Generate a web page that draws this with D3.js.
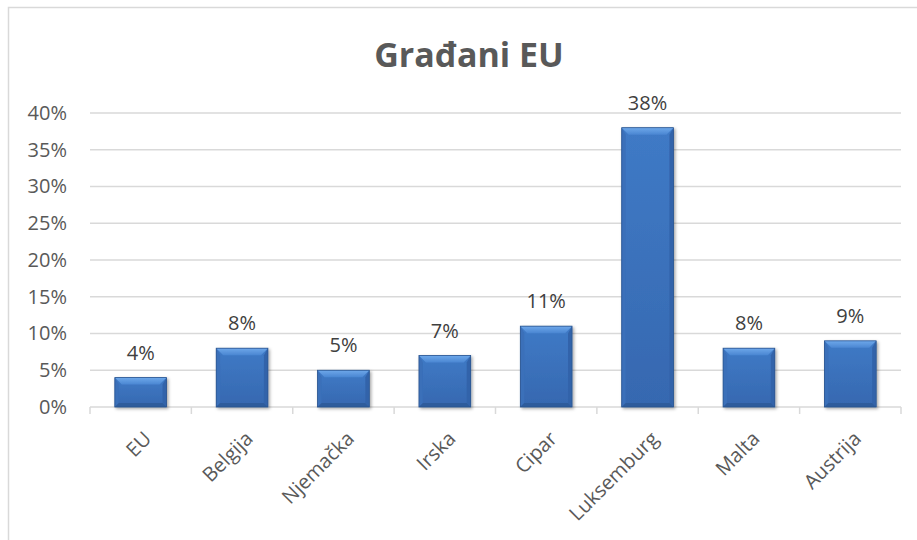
<!DOCTYPE html>
<html>
<head>
<meta charset="utf-8">
<script src="https://cdn.jsdelivr.net/npm/d3@7"></script>
<style>
	body { margin: 0; background: #fff; }
	#vis { width: 917px; height: 540px; }
	text { font-family: "Open Sans", "Noto Sans", sans-serif; }
</style>
</head>
<body>
<div id="vis"></div>
<script>
var countries = ['EU', 'Belgija', 'Njemačka', 'Irska', 'Cipar', 'Luksemburg', 'Malta', 'Austrija'];
var shares = [4, 8, 5, 7, 11, 38, 8, 9];
var y_ticks = [0, 5, 10, 15, 20, 25, 30, 35, 40];
var title = 'Građani EU';

var width = 917;
var height = 540;
var margin = {
	top: 113,
	bottom: 133,
	left: 90,
	right: 16
};
var svg = d3.select('#vis').append('svg').attr('width', width).attr('height', height);

// chart frame (right and bottom run off the picture)
svg.append('rect').attr('x', 8.5).attr('y', 7.5).attr('width', 930).attr('height', 560)
	.attr('fill', 'none').attr('stroke', '#d9d9d9').attr('stroke-width', 1.5);

svg.append('text').attr('x', 469).attr('y', 67).attr('text-anchor', 'middle')
	.attr('font-size', 34).attr('font-weight', 700).attr('fill', '#595959').text(title);

var defs = svg.append('defs');
var g_top = defs.append('linearGradient').attr('id', 'bevel_top').attr('x1', 0).attr('y1', 0).attr('x2', 0).attr('y2', 1);
g_top.append('stop').attr('offset', '0%').attr('stop-color', '#6ea8ea');
g_top.append('stop').attr('offset', '100%').attr('stop-color', '#4a86d2');
var g_body = defs.append('linearGradient').attr('id', 'body').attr('x1', 0).attr('y1', 0).attr('x2', 0).attr('y2', 1);
g_body.append('stop').attr('offset', '0%').attr('stop-color', '#3f7ac6');
g_body.append('stop').attr('offset', '100%').attr('stop-color', '#3668b0');
var shadow = defs.append('filter').attr('id', 'shadow').attr('x', '-20%').attr('y', '-20%').attr('width', '140%').attr('height', '140%');
shadow.append('feDropShadow').attr('dx', 1.5).attr('dy', 1.5).attr('stdDeviation', 1.5).attr('flood-color', '#000').attr('flood-opacity', 0.35);

var x_scale = d3.scaleBand().domain(countries).range([margin.left, width - margin.right])
	.paddingInner(0.49).paddingOuter(0.245);
var y_scale = d3.scaleLinear().domain([0, 40]).range([height - margin.bottom, margin.top]);
var base = y_scale(0);

// gridlines
svg.append('g').selectAll('line').data(y_ticks.slice(1)).enter().append('line')
	.attr('x1', margin.left).attr('x2', width - margin.right)
	.attr('y1', function(d) { return y_scale(d); }).attr('y2', function(d) { return y_scale(d); })
	.attr('stroke', '#d9d9d9').attr('stroke-width', 1.5);

// y labels
var y_axis = d3.axisLeft(y_scale).tickValues(y_ticks).tickSize(0).tickPadding(23)
	.tickFormat(function(d) { return d + '%'; });
var y_g = svg.append('g').attr('transform', 'translate(' + margin.left + ',0)').call(y_axis);
y_g.select('.domain').remove();
y_g.selectAll('text').attr('font-size', 20).attr('fill', '#595959').attr('font-family', '"Open Sans", sans-serif');

// x axis line and boundary ticks
var gap = (x_scale.step() - x_scale.bandwidth()) / 2;
var bounds = countries.map(function(d) { return x_scale(d) - gap; }).concat([x_scale.range()[1]]);
svg.append('line').attr('x1', margin.left).attr('x2', width - margin.right).attr('y1', base).attr('y2', base)
	.attr('stroke', '#d9d9d9').attr('stroke-width', 1.5);
svg.append('g').selectAll('line').data(bounds).enter().append('line')
	.attr('x1', function(d) { return d; }).attr('x2', function(d) { return d; })
	.attr('y1', base).attr('y2', base + 7)
	.attr('stroke', '#d9d9d9').attr('stroke-width', 1.5);

// x labels
svg.append('g').selectAll('text').data(countries).enter().append('text')
	.attr('transform', function(d) {
		var cx = x_scale(d) + x_scale.bandwidth() / 2 + 12;
		return 'translate(' + cx + ',' + (base + 33) + ') rotate(-45)';
	})
	.attr('text-anchor', 'end').attr('font-size', 20).attr('fill', '#595959').text(function(d) { return d; });

// bevelled bars
var data = countries.map(function(c, i) { return { name: c, value: shares[i] }; });
var bars = svg.append('g').selectAll('g').data(data).enter().append('g').attr('filter', 'url(#shadow)');
function pts(list) { return list.map(function(p) { return p.join(','); }).join(' '); }
bars.each(function(d) {
	var g = d3.select(this);
	var x0 = x_scale(d.name), x1 = x0 + x_scale.bandwidth();
	var y0 = y_scale(d.value), y1 = base;
	var b = 7, s = 4, bb = 4;
	g.append('rect').attr('x', x0).attr('y', y0).attr('width', x1 - x0).attr('height', y1 - y0).attr('fill', 'url(#body)');
	g.append('polygon').attr('points', pts([[x0, y0], [x0 + s, y0 + b], [x0 + s, y1 - bb], [x0, y1]])).attr('fill', '#3a6fb9');
	g.append('polygon').attr('points', pts([[x1, y0], [x1 - s, y0 + b], [x1 - s, y1 - bb], [x1, y1]])).attr('fill', '#3364aa');
	g.append('polygon').attr('points', pts([[x0, y1], [x0 + s, y1 - bb], [x1 - s, y1 - bb], [x1, y1]])).attr('fill', '#2f5c9c');
	g.append('polygon').attr('points', pts([[x0, y0], [x1, y0], [x1 - s - 3, y0 + b], [x0 + s + 3, y0 + b]])).attr('fill', 'url(#bevel_top)');
	g.append('rect').attr('x', x0).attr('y', y0).attr('width', x1 - x0).attr('height', y1 - y0)
		.attr('fill', 'none').attr('stroke', '#2a548f').attr('stroke-width', 0.8);
});

// value labels
svg.append('g').selectAll('text').data(data).enter().append('text')
	.attr('x', function(d) { return x_scale(d.name) + x_scale.bandwidth() / 2; })
	.attr('y', function(d) { return y_scale(d.value) - 18; })
	.attr('text-anchor', 'middle').attr('font-size', 20).attr('fill', '#404040')
	.text(function(d) { return d.value + '%'; });
</script>
</body>
</html>
